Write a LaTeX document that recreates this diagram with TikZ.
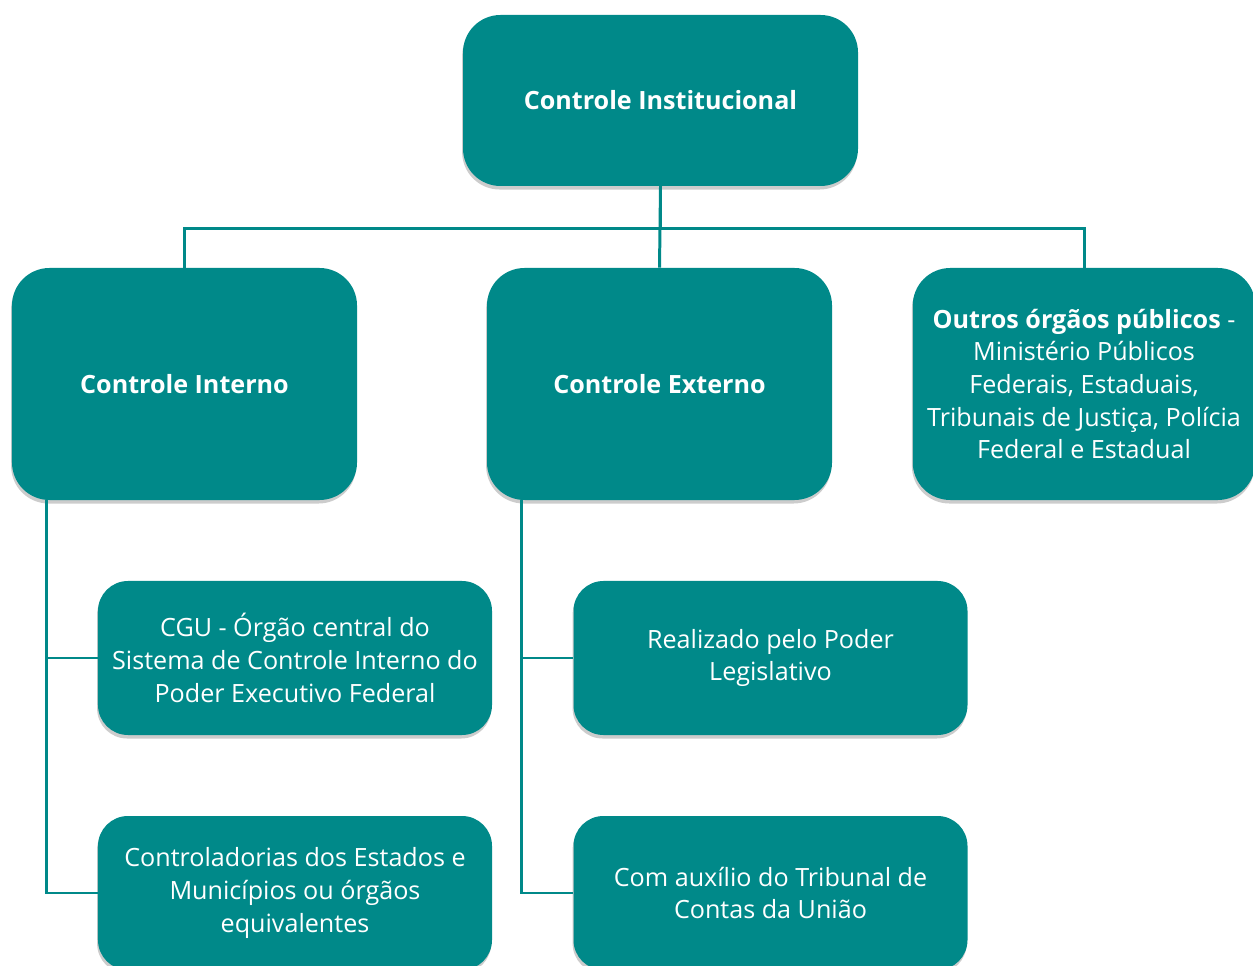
\documentclass[tikz,border=0pt]{standalone}
\usepackage{fontspec}
\setmainfont{Open Sans}
\usetikzlibrary{shadows}

\definecolor{teal1}{RGB}{0,137,137}

\begin{document}
\begin{tikzpicture}[x=.2mm, y=-.2mm]
\tikzstyle{every node}=[inner sep=2pt, align=center, text=white, font=\fontsize{14.3}{18.6}\selectfont]
\tikzstyle{box}=[rectangle, fill=teal1, rounded corners=.75cm,
  drop shadow={shadow xshift=-.5pt, shadow yshift=-2pt, opacity=.2, fill=black}]
\tikzstyle{sub}=[box, rounded corners=.6cm, minimum width=7.88cm, minimum height=3.08cm]
\tikzstyle{wire}=[draw=teal1, line width=1.7pt]
\useasboundingbox (0,0) rectangle (1253,966);
\draw (660.5,100.5) node (ci) [box, minimum width=7.9cm, minimum height=3.42cm] {\textbf{Controle Institucional}};
\draw (184.5,384) node (cint) [box, minimum width=6.9cm, minimum height=4.64cm] {\textbf{Controle Interno}};
\draw (659.5,384) node (cext) [box, minimum width=6.9cm, minimum height=4.64cm] {\textbf{Controle Externo}};
\draw (1084,384) node (oo) [box, minimum width=6.85cm, minimum height=4.64cm] {\textbf{Outros órgãos públicos} -\\Ministério Públicos\\Federais, Estaduais,\\Tribunais de Justiça, Polícia\\Federal e Estadual};
\draw (295,658) node (cgu) [sub] {CGU - Órgão central do\\Sistema de Controle Interno do\\Poder Executivo Federal};
\draw (295,893) node (est) [sub] {Controladorias dos Estados e\\Municípios ou órgãos\\equivalentes};
\draw (770.5,658) node (leg) [sub] {Realizado pelo Poder\\Legislativo};
\draw (770.5,893) node (tcu) [sub] {Com auxílio do Tribunal de\\Contas da União};
\draw[wire] (ci.south) -- ++(0,-.84cm) -| (cint.north);
\draw[wire] (ci.south) -- (cext.north);
\draw[wire] (ci.south) -- ++(0,-.84cm) -| (oo.north);
\draw[wire] ([xshift=.7cm]cint.south west) |- (cgu.west);
\draw[wire] ([xshift=.7cm]cint.south west) |- (est.west);
\draw[wire] ([xshift=.7cm]cext.south west) |- (leg.west);
\draw[wire] ([xshift=.7cm]cext.south west) |- (tcu.west);
\end{tikzpicture}
\end{document}
